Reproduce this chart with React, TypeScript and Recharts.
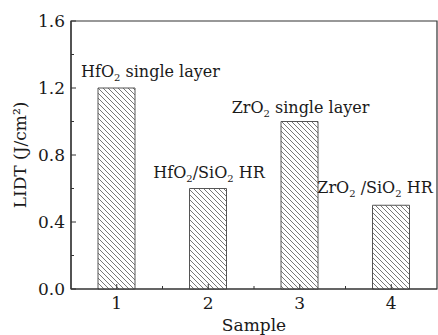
import { Bar, BarChart, LabelList, ReferenceArea, XAxis, YAxis } from "recharts";

const samples = [1, 2, 3, 4];
const lidt = [1.2, 0.6, 1.0, 0.5];
const coatings = [
  ["HfO", "2", " single layer"],
  ["HfO", "2", "/SiO", "2", " HR"],
  ["ZrO", "2", " single layer"],
  ["ZrO", "2", " /SiO", "2", " HR"],
];
const xTicks = [1, 1.5, 2, 2.5, 3, 3.5, 4];
const yTicks = [0, 0.2, 0.4, 0.6, 0.8, 1.0, 1.2, 1.4, 1.6];

const data = samples.map((s, i) => ({ sample: s, lidt: lidt[i], label: coatings[i] }));

const FONT = "'DejaVu Serif', serif";
const INK = "#333";
const TEXT = "#1a1a1a";

// where each annotation sits relative to its bar top
const labelShift = [
  { dx: 34, dy: -11 },
  { dx: 1, dy: -11 },
  { dx: 1, dy: -9 },
  { dx: -16, dy: -12 },
];

const XTick = (props: any) => {
  const { x, y, payload } = props;
  const major = Number.isInteger(payload.value);
  return (
    <g>
      <line x1={x} x2={x} y1={y} y2={y - (major ? 5 : 3)} stroke={INK} />
      {major && (
        <text x={x} y={y + 20} textAnchor="middle" fontSize={17} fontFamily={FONT} fill={TEXT}>
          {payload.value}
        </text>
      )}
    </g>
  );
};

const YTick = (props: any) => {
  const { x, y, payload } = props;
  const major = Math.round(payload.value * 10) % 4 === 0;
  return (
    <g>
      <line x1={x} x2={x + (major ? 5 : 3)} y1={y} y2={y} stroke={INK} />
      {major && (
        <text x={x - 6} y={y + 6} textAnchor="end" fontSize={17} fontFamily={FONT} fill={TEXT}>
          {payload.value.toFixed(1)}
        </text>
      )}
    </g>
  );
};

const CoatingLabel = (props: any) => {
  const { x, y, width, index, value } = props;
  const parts: string[] = value;
  const s = labelShift[index];
  return (
    <text
      x={x + width / 2 + s.dx}
      y={y + s.dy}
      textAnchor="middle"
      fontSize={16}
      fontFamily={FONT}
      fill={TEXT}
    >
      {parts.map((p, i) =>
        i % 2 === 1 ? (
          <tspan key={i} fontSize={10} dy={4}>
            {p}
          </tspan>
        ) : (
          <tspan key={i} dy={i === 0 ? 0 : -4}>
            {p}
          </tspan>
        )
      )}
    </text>
  );
};

const App = () => {
  return (
    <div style={{ position: "absolute", left: 0, top: 0 }}>
      <BarChart
        width={438}
        height={335}
        data={data}
        margin={{ top: 21, right: 1, left: 11, bottom: 0 }}
      >
        <defs>
          <pattern id="hatch" patternUnits="userSpaceOnUse" width={5} height={5}>
            <rect width={5} height={5} fill="#fff" />
            <path d="M-1,-1 L6,6 M-1,4 L1,6 M4,-1 L6,1" stroke="#777" strokeWidth={1} />
          </pattern>
        </defs>
        <ReferenceArea
          x1={0.5}
          x2={4.5}
          y1={0}
          y2={1.6}
          fill="none"
          stroke={INK}
          strokeWidth={1.2}
          ifOverflow="visible"
        />
        <XAxis
          dataKey="sample"
          type="number"
          domain={[0.5, 4.5]}
          ticks={xTicks}
          interval={0}
          height={46}
          tickSize={0}
          tickMargin={0}
          tick={<XTick />}
          axisLine={{ stroke: INK, strokeWidth: 1.2 }}
          tickLine={false}
          label={{
            value: "Sample",
            position: "insideBottom",
            offset: 4,
            fontSize: 17,
            fontFamily: FONT,
            fill: TEXT,
          }}
        />
        <YAxis
          type="number"
          domain={[0, 1.6]}
          ticks={yTicks}
          interval={0}
          width={60}
          tickSize={0}
          tickMargin={0}
          tick={<YTick />}
          axisLine={{ stroke: INK, strokeWidth: 1.2 }}
          tickLine={false}
          label={{
            value: "LIDT (J/cm²)",
            angle: -90,
            position: "insideLeft",
            offset: 9,
            style: { textAnchor: "middle" },
            fontSize: 17,
            fontFamily: FONT,
            fill: TEXT,
          }}
        />
        <Bar
          dataKey="lidt"
          barSize={37}
          fill="url(#hatch)"
          stroke="#555"
          strokeWidth={1}
          isAnimationActive={false}
        >
          <LabelList dataKey="label" content={<CoatingLabel />} />
        </Bar>
      </BarChart>
    </div>
  );
};

export default App;
